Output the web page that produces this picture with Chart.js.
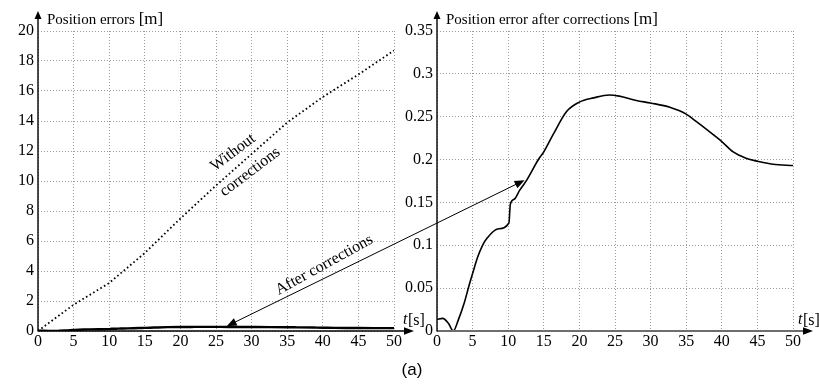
<!DOCTYPE html>
<html><head><meta charset="utf-8">
<script src="https://cdn.jsdelivr.net/npm/chart.js@4.4.1/dist/chart.umd.min.js"></script>
<style>
html,body{margin:0;padding:0;background:#fff;}
#wrap{position:relative;width:819px;height:387px;background:#fff;}
canvas{position:absolute;left:0;top:0;}
</style></head><body>
<div id="wrap"><canvas id="c1" width="819" height="387"></canvas><canvas id="c2" width="819" height="387"></canvas></div>
<script>
// ---- data ----
const timeAfter = [0,0.8,1.6,2.3,3,3.8,4.5,5,5.7,6.4,7.1,8.5,10.1,10.3,10.9,11.6,12.6,14.2,15,16.3,18.2,20,22,24.2,25.6,28,30,32.7,35,36.4,38.8,40,41.6,43.4,45,47.2,50];
const errAfter  = [0.0136,0.0147,0.009,0,0.013,0.032,0.053,0.067,0.086,0.1,0.109,0.119,0.126,0.148,0.154,0.164,0.176,0.1995,0.209,0.229,0.256,0.267,0.272,0.2754,0.274,0.269,0.266,0.261,0.253,0.2445,0.229,0.221,0.209,0.2016,0.198,0.1945,0.193];
const timeWithout = [0,5,10,15,20,25,30,35,40,45,50];
const errWithout  = [0,1.75,3.2,5.2,7.5,9.7,11.8,13.9,15.6,17.1,18.7];
const xTicks = [0,5,10,15,20,25,30,35,40,45,50];
const yTicksLeft = [0,2,4,6,8,10,12,14,16,18,20];
const yTicksRight = [0,0.05,0.1,0.15,0.2,0.25,0.3,0.35];
const yTickLabelsRight = ['0','0.05','0.1','0.15','0.2','0.25','0.3','0.35'];
const titleLeft = 'Position errors ';
const titleRight = 'Position error after corrections ';
const unitY = '[m]';
const labelWithout1 = 'Without';
const labelWithout2 = 'corrections';
const labelAfter = 'After corrections';
const figLabel = '(a)';

const SERIF = "'Liberation Serif','Times New Roman',serif";

function pts(xs, ys){ return xs.map((x,i)=>({x:x,y:ys[i]})); }

function makeScales(yTicks, yLabels, yMax, yWidth){
  return {
    x:{type:'linear',min:0,max:50,
       afterBuildTicks:s=>{s.ticks=xTicks.map(v=>({value:v}));},
       ticks:{font:{family:SERIF,size:16},color:'#000',padding:1,maxRotation:0,autoSkip:false,callback:v=>String(v)},
       grid:{color:'#9a9a9a',lineWidth:1,drawTicks:false},
       border:{display:false,dash:[1,2]},
       afterFit:s=>{s.height=20;}},
    y:{type:'linear',min:0,max:yMax,
       afterBuildTicks:s=>{s.ticks=yTicks.map(v=>({value:v}));},
       ticks:{font:{family:SERIF,size:16},color:'#000',padding:4,autoSkip:false,
              callback:(v)=>{const i=yTicks.findIndex(t=>Math.abs(t-v)<1e-9);return i>=0?yLabels[i]:'';}},
       grid:{color:'#9a9a9a',lineWidth:1,drawTicks:false},
       border:{display:false,dash:[1,2]},
       afterFit:s=>{s.width=yWidth;}}
  };
}

function arrowHead(ctx, tx, ty, ang, len, hw){
  ctx.beginPath();
  ctx.moveTo(tx,ty);
  ctx.lineTo(tx-len*Math.cos(ang)+hw*Math.sin(ang), ty-len*Math.sin(ang)-hw*Math.cos(ang));
  ctx.lineTo(tx-len*Math.cos(ang)-hw*Math.sin(ang), ty-len*Math.sin(ang)+hw*Math.cos(ang));
  ctx.closePath(); ctx.fill();
}

function axesPlugin(title, xAxisColor, xAxisWidth, tOffset){
  return {id:'axesArrows', afterDraw(chart){
    const ctx=chart.ctx, a=chart.chartArea, xs=chart.scales.x, ys=chart.scales.y;
    const x0=xs.getPixelForValue(0), y0=ys.getPixelForValue(0);
    ctx.save();
    // x axis
    ctx.strokeStyle=xAxisColor; ctx.lineWidth=xAxisWidth;
    ctx.beginPath(); ctx.moveTo(x0,y0); ctx.lineTo(a.right+12,y0); ctx.stroke();
    ctx.fillStyle='#000';
    arrowHead(ctx, a.right+20, y0, 0, 10, 3.8);
    // y axis
    ctx.strokeStyle='#000'; ctx.lineWidth=1.4;
    ctx.beginPath(); ctx.moveTo(x0,y0+0.5); ctx.lineTo(x0,a.top-13); ctx.stroke();
    arrowHead(ctx, x0, a.top-20, -Math.PI/2, 8, 3.5);
    // y title
    ctx.fillStyle='#000'; ctx.textBaseline='alphabetic'; ctx.textAlign='left';
    ctx.font='15px '+SERIF;
    ctx.fillText(title, x0+9, a.top-7);
    const w=ctx.measureText(title).width;
    ctx.font='17px '+SERIF;
    ctx.fillText(unitY, x0+9+w, a.top-7);
    // t[s]
    ctx.font='italic 16px '+SERIF;
    const tx=a.right+tOffset;
    ctx.fillText('t', tx, y0-7);
    const tw=ctx.measureText('t').width;
    ctx.font='16px '+SERIF;
    ctx.fillText('[s]', tx+tw+0.5, y0-6);
    ctx.restore();
  }};
}

const chart1 = new Chart(document.getElementById('c1'), {
  type:'line',
  data:{datasets:[
    {label:'Without corrections',data:pts(timeWithout,errWithout),borderColor:'#000',borderWidth:1.8,borderDash:[1.6,2.6],pointRadius:0,fill:false,tension:0},
    {label:'After corrections',data:pts(timeAfter,errAfter),borderColor:'#000',borderWidth:2.4,pointRadius:0,fill:false,cubicInterpolationMode:'monotone'}
  ]},
  options:{responsive:false,animation:false,
    layout:{padding:{left:0,top:31,right:425,bottom:36}},
    plugins:{legend:{display:false},tooltip:{enabled:false}},
    scales:makeScales(yTicksLeft, yTicksLeft.map(String), 20, 38)},
  plugins:[axesPlugin(titleLeft,'#000',1.4,9)]
});

const annotPlugin = {id:'annot', afterDraw(chart){
  const ctx=chart.ctx;
  const x1s=chart1.scales.x, y1s=chart1.scales.y, x2s=chart.scales.x, y2s=chart.scales.y;
  ctx.save();
  // arrow between the two curves
  const p1={x:x1s.getPixelForValue(26.5), y:y1s.getPixelForValue(0.32)};
  const p2={x:x2s.getPixelForValue(12.3), y:y2s.getPixelForValue(0.176)};
  const ang=Math.atan2(p2.y-p1.y,p2.x-p1.x);
  ctx.strokeStyle='#000'; ctx.lineWidth=1; ctx.fillStyle='#000';
  ctx.beginPath();
  ctx.moveTo(p1.x+8*Math.cos(ang),p1.y+8*Math.sin(ang));
  ctx.lineTo(p2.x-8*Math.cos(ang),p2.y-8*Math.sin(ang));
  ctx.stroke();
  arrowHead(ctx,p2.x,p2.y,ang,10,4);
  arrowHead(ctx,p1.x,p1.y,ang+Math.PI,10,4);
  // rotated labels
  ctx.font='16px '+SERIF; ctx.textAlign='center'; ctx.textBaseline='middle';
  const lab=(txt,x,y,deg)=>{ctx.save();ctx.translate(x,y);ctx.rotate(deg*Math.PI/180);ctx.fillText(txt,0,0);ctx.restore();};
  lab(labelWithout1, x1s.getPixelForValue(27.4), y1s.getPixelForValue(11.9), -37);
  lab(labelWithout2, x1s.getPixelForValue(29.8), y1s.getPixelForValue(10.6), -37);
  lab(labelAfter, x1s.getPixelForValue(40.2), y1s.getPixelForValue(4.4), -29);
  // figure label
  ctx.font='17px "Liberation Sans",Arial,sans-serif'; ctx.textBaseline='alphabetic';
  ctx.fillText(figLabel, 412, 375);
  ctx.restore();
}};

const chart2 = new Chart(document.getElementById('c2'), {
  type:'line',
  data:{datasets:[
    {label:'After corrections',data:pts(timeAfter,errAfter),borderColor:'#000',borderWidth:1.6,pointRadius:0,fill:false,cubicInterpolationMode:'monotone'}
  ]},
  options:{responsive:false,animation:false,
    layout:{padding:{left:397,top:31,right:26,bottom:36}},
    plugins:{legend:{display:false},tooltip:{enabled:false}},
    scales:makeScales(yTicksRight, yTickLabelsRight, 0.35, 40)},
  plugins:[axesPlugin(titleRight,'#6e6e6e',2,5),annotPlugin]
});
</script>
</body></html>
